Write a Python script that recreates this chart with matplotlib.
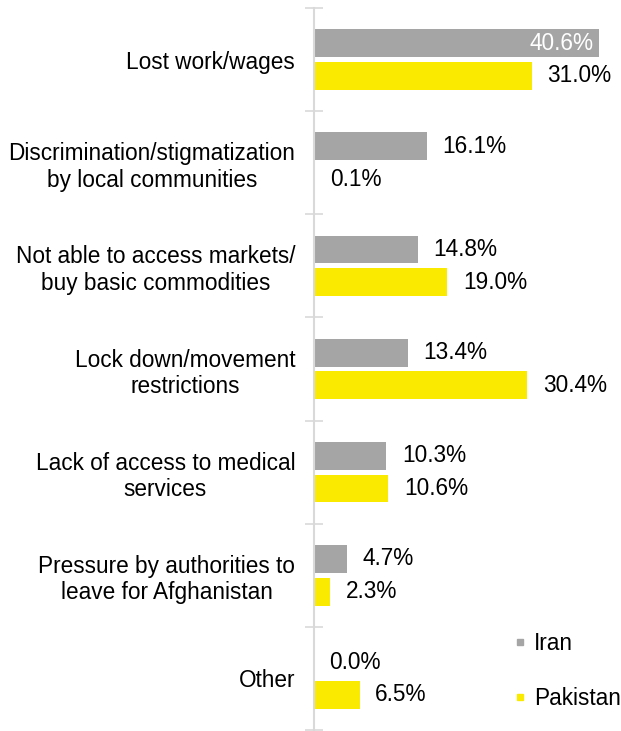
import matplotlib.pyplot as plt
from matplotlib.lines import Line2D
import numpy as np

categories = [
    "Lost work/wages",
    "Discrimination/stigmatization\nby local communities",
    "Not able to access markets/\nbuy basic commodities",
    "Lock down/movement\nrestrictions",
    "Lack of access to medical\nservices",
    "Pressure by authorities to\nleave for Afghanistan",
    "Other",
]
iran = [40.6, 16.1, 14.8, 13.4, 10.3, 4.7, 0.0]
pakistan = [31.0, 0.1, 19.0, 30.4, 10.6, 2.3, 6.5]

GRAY = "#A5A5A5"
YELLOW = "#FAEA00"
FS = 16.3

plt.rcParams['font.family'] = ['Liberation Sans', 'DejaVu Sans']

fig = plt.figure(figsize=(6.21, 7.31), dpi=100)
ax = fig.add_axes([314 / 621, 1 / 731, 307 / 621, 722 / 731])

y = np.arange(len(categories))
off = 0.158
h = 0.27
ax.barh(y - off, iran, height=h, color=GRAY)
ax.barh(y + off, pakistan, height=h, color=YELLOW)

ax.set_xlim(0, 307 / 7.02)
ax.set_ylim(len(categories) - 0.5, -0.5)

# value labels
for i, (a, b) in enumerate(zip(iran, pakistan)):
    if a > 35:
        ax.text(a - 0.8, i - off, f"{a:.1f}%", ha="right", va="center",
                color="white", fontsize=FS)
    else:
        ax.text(a + 2.2, i - off, f"{a:.1f}%", ha="left", va="center",
                color="black", fontsize=FS)
    ax.text(b + 2.2, i + off, f"{b:.1f}%", ha="left", va="center",
            color="black", fontsize=FS)

ax.set_yticks(y)
ax.set_yticklabels(categories, fontsize=FS, multialignment="center")
ax.tick_params(axis="y", which="major", length=0, pad=13.5)
ax.set_yticks(np.arange(-0.5, len(categories), 1.0), minor=True)
ax.tick_params(axis="y", which="minor", length=13, direction="inout",
               color="#D9D9D9", width=1.2)
ax.set_xticks([])

for s in ["top", "right", "bottom"]:
    ax.spines[s].set_visible(False)
ax.spines["left"].set_color("#D9D9D9")
ax.spines["left"].set_linewidth(1.5)

# small square legend keys
handles = [
    Line2D([], [], marker="s", linestyle="", color=GRAY, markersize=4.5),
    Line2D([], [], marker="s", linestyle="", color=YELLOW, markersize=4.5),
]
leg = ax.legend(handles, ["Iran", "Pakistan"], loc="lower right",
                bbox_to_anchor=(1.0, 0.028), frameon=False,
                fontsize=FS, handlelength=0.35, handletextpad=0.45,
                labelspacing=1.4, borderaxespad=0, borderpad=0)

fig.savefig("out.png", dpi=100)
